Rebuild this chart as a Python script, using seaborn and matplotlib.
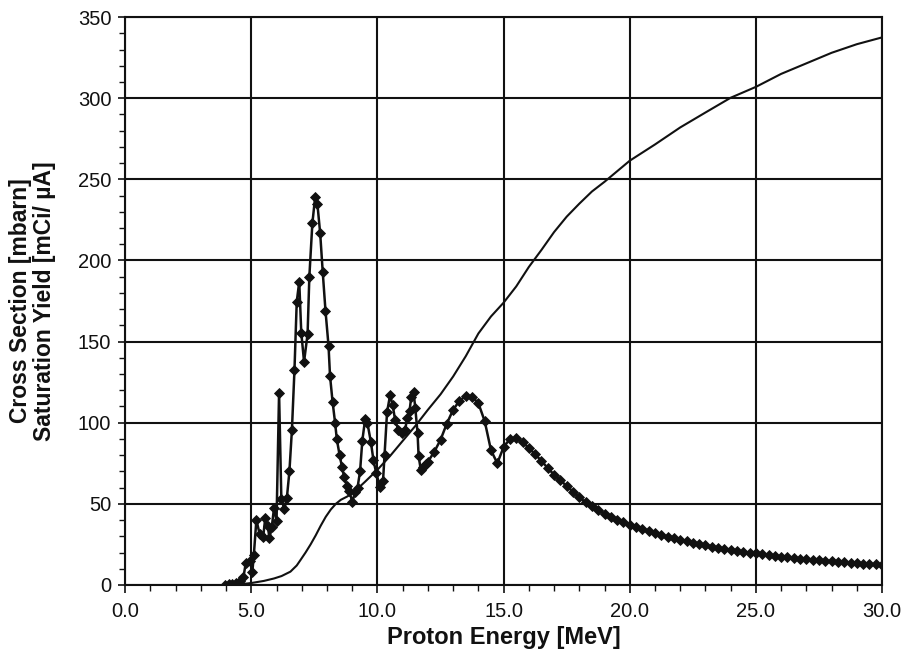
import numpy as np
import pandas as pd
import matplotlib
matplotlib.use("Agg")
import matplotlib.pyplot as plt
from matplotlib.ticker import MultipleLocator, FormatStrFormatter
import seaborn as sns

# cross section (measured points, MeV / mbarn)
xs_energy = [
    3.96, 4.1, 4.25, 4.4, 4.55, 4.69, 4.78, 4.95, 5.04, 5.1, 5.2, 5.33, 5.47,
    5.55, 5.65, 5.72, 5.81, 5.9, 6.0, 6.1, 6.19, 6.31, 6.41, 6.51, 6.61, 6.71,
    6.8, 6.9, 6.98, 7.09, 7.23, 7.3, 7.42, 7.53, 7.62, 7.73, 7.83, 7.94, 8.06,
    8.12, 8.22, 8.32, 8.39, 8.5, 8.59, 8.68, 8.79, 8.89, 9.0, 9.12, 9.21, 9.31,
    9.4, 9.51, 9.6, 9.74, 9.84, 9.95, 10.1, 10.22, 10.28, 10.38, 10.5, 10.6,
    10.7, 10.83, 10.97, 11.1, 11.17, 11.27, 11.34, 11.43, 11.5, 11.59, 11.63,
    11.72, 11.82, 11.92,
    12.0, 12.25, 12.5, 12.75, 13.0, 13.25, 13.5, 13.75, 14.0, 14.25, 14.5,
    14.75, 15.0, 15.25, 15.5, 15.75, 16.0, 16.25, 16.5, 16.75, 17.0, 17.25,
    17.5, 17.75, 18.0, 18.25, 18.5, 18.75, 19.0, 19.25, 19.5, 19.75, 20.0,
    20.25, 20.5, 20.75, 21.0, 21.25, 21.5, 21.75, 22.0, 22.25, 22.5, 22.75,
    23.0, 23.25, 23.5, 23.75, 24.0, 24.25, 24.5, 24.75, 25.0, 25.25, 25.5,
    25.75, 26.0, 26.25, 26.5, 26.75, 27.0, 27.25, 27.5, 27.75, 28.0, 28.25,
    28.5, 28.75, 29.0, 29.25, 29.5, 29.75, 30.0,
]
xs_value = [
    0, 0.3, 0.6, 1.2, 2.5, 5, 13.5, 14.8, 8, 18.5, 40, 31.5, 29.5,
    41, 36.5, 28.8, 35.5, 47.5, 39.5, 118.5, 53, 46.8, 53.8, 70, 95.8, 132.3,
    174.5, 187, 155.5, 137.6, 154.6, 190, 223, 239, 234.7, 216.7, 193, 169, 147.5,
    128.8, 113, 100, 89.7, 80, 73, 66.5, 61, 58, 51, 57.5, 60, 70,
    89, 102, 100, 88, 77, 69, 60.5, 64, 80, 106.5, 117, 111,
    101.7, 95.5, 93.4, 95.5, 102.7, 107, 116, 119, 109, 93.4, 79.5,
    70.8, 72.9, 74.5,
    76, 82, 89.5, 99.5, 108, 113.5, 116.5, 116, 112, 101, 83,
    75, 85, 90, 90.5, 88, 84.5, 80.5, 76.5, 72, 68, 64.5,
    61, 57.5, 54, 51, 48.5, 46, 44, 42, 40.3, 38.6, 37,
    35.6, 34.3, 33, 31.8, 30.7, 29.7, 28.7, 27.8, 26.9, 26, 25.2,
    24.4, 23.7, 23, 22.3, 21.7, 21.1, 20.5, 20, 19.4, 18.9, 18.4,
    18, 17.5, 17.1, 16.7, 16.3, 15.9, 15.5, 15.2, 14.8, 14.5, 14.2,
    13.9, 13.6, 13.4, 13.1, 12.9, 12.7, 12.5,
]

# saturation yield (mCi/uA)
sat_energy = [
    4.0, 4.5, 5.0, 5.5, 5.9, 6.2, 6.55, 6.8, 6.95, 7.15, 7.35, 7.55, 7.75,
    7.95, 8.15, 8.35, 8.55, 8.8, 9.05, 9.5, 10.0, 10.5, 11.0, 11.5, 12.0,
    12.5, 13.0, 13.5, 14.0, 14.5, 15.0, 15.5, 16.0, 16.5, 17.0, 17.5, 18.0,
    18.5, 19.0, 19.5, 20.0, 21.0, 22.0, 23.0, 24.0, 25.0, 26.0, 27.0, 28.0,
    29.0, 30.0,
]
sat_value = [
    0, 0.3, 1.2, 2.5, 4, 5.5, 8.2, 12, 15.4, 20, 25, 30.5, 36.5,
    42, 46.5, 50, 52.5, 54.5, 57, 63.5, 71, 79.5, 88.8, 98, 108,
    117.5, 128.5, 141, 155, 165.5, 174, 184, 196, 206.5, 217.5, 227, 235,
    242.5, 248.5, 255, 261.5, 271.5, 282, 291.2, 300.3, 307, 315, 321.5, 328,
    333.3, 337.5,
]

xs_df = pd.DataFrame({"energy": xs_energy, "value": xs_value})
sat_df = pd.DataFrame({"energy": sat_energy, "value": sat_value})

sns.set_theme(style="white")
plt.rcParams["font.family"] = ["Liberation Sans", "DejaVu Sans"]
plt.rcParams["text.color"] = "#111111"
plt.rcParams["axes.labelcolor"] = "#111111"

fig = plt.figure(figsize=(9.07, 6.58), dpi=100)
ax = fig.add_axes([0.138, 0.111, 0.8345, 0.863])

sns.lineplot(data=sat_df, x="energy", y="value", ax=ax, color="#111111",
             linewidth=1.5, estimator=None)
sns.lineplot(data=xs_df, x="energy", y="value", ax=ax, color="#111111",
             linewidth=1.8, marker="D", markersize=5, markeredgewidth=0.6,
             markeredgecolor="#111111", estimator=None)

ax.set_xlim(0, 30)
ax.set_ylim(0, 350)
ax.xaxis.set_major_locator(MultipleLocator(5))
ax.xaxis.set_minor_locator(MultipleLocator(1))
ax.yaxis.set_major_locator(MultipleLocator(50))
ax.yaxis.set_minor_locator(MultipleLocator(10))
ax.xaxis.set_major_formatter(FormatStrFormatter("%.1f"))

ax.grid(True, which="major", color="#111111", linewidth=1.5)
for s in ax.spines.values():
    s.set_color("#111111")
    s.set_linewidth(1.5)

ax.tick_params(axis="x", which="major", direction="out", length=6, width=1.2,
               colors="#111111", labelsize=14.5, pad=6, bottom=True)
ax.tick_params(axis="x", which="minor", direction="out", length=4, width=1.0,
               colors="#111111", bottom=True)
ax.tick_params(axis="y", which="major", direction="inout", length=10, width=1.2,
               colors="#111111", labelsize=14.5, pad=5, left=True)
ax.tick_params(axis="y", which="minor", direction="out", length=4, width=1.0,
               colors="#111111", left=True)

ax.set_xlabel("Proton Energy [MeV]", fontsize=17, fontweight="bold")
ax.set_ylabel("Cross Section [mbarn]\nSaturation Yield [mCi/ \u00b5A]",
              fontsize=16.5, fontweight="bold", linespacing=1.05)
ax.xaxis.set_label_coords(0.5, -0.072)
ax.yaxis.set_label_coords(-0.092, 0.5)

plt.savefig("out.png", dpi=100)
plt.close()
